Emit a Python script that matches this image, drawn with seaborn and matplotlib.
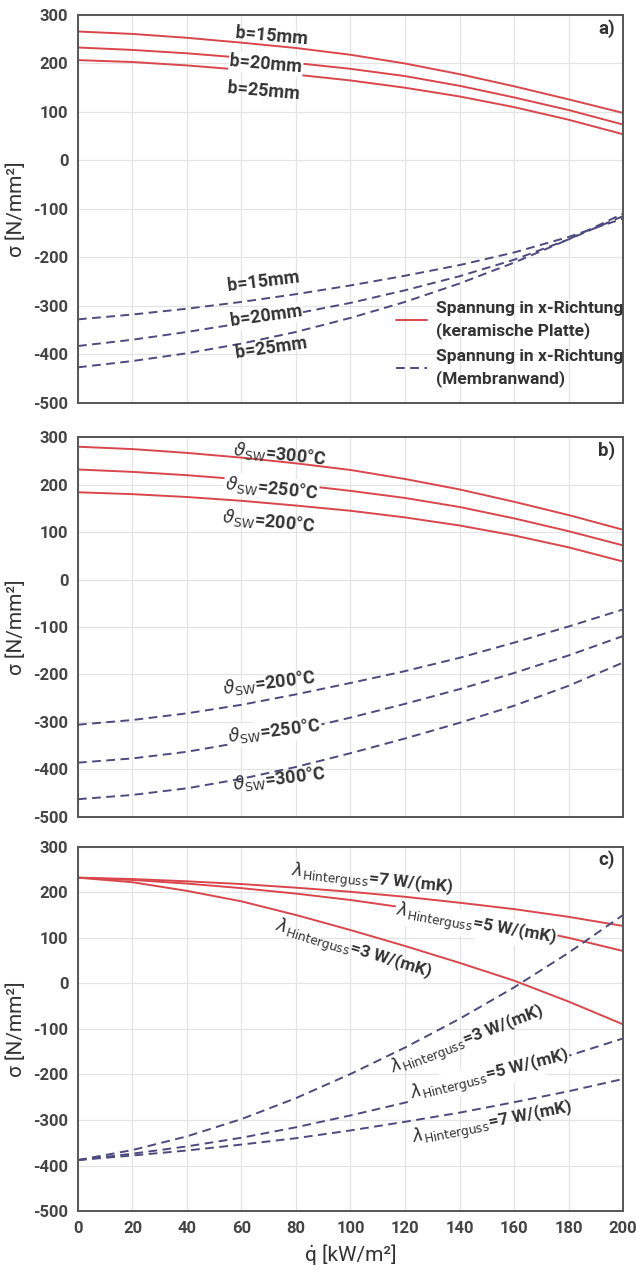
import numpy as np
import pandas as pd
import matplotlib
matplotlib.use("Agg")
import matplotlib.pyplot as plt
from matplotlib.lines import Line2D
import seaborn as sns

# heat flux q̇ in kW/m²
Q = [0, 20, 40, 60, 80, 100, 120, 140, 160, 180, 200]

# a) ceramic plate (solid) and membrane wall (dashed) for tile thickness b
a_plate_b15 = [266, 261, 253, 243, 232, 218, 200, 178, 153, 126, 98]
a_plate_b20 = [233, 228, 221, 212, 201, 189, 174, 154, 130, 104, 74]
a_plate_b25 = [207, 203, 196, 187, 177, 165, 150, 132, 110, 84, 54]
a_wall_b15 = [-328, -318, -306, -292, -276, -258, -238, -216, -190, -158, -120]
a_wall_b20 = [-383, -370, -354, -336, -316, -294, -268, -239, -205, -163, -115]
a_wall_b25 = [-427, -414, -398, -378, -354, -325, -292, -254, -211, -163, -110]

# b) ceramic plate and membrane wall for wall temperature
b_plate_300 = [280, 275, 267, 257, 245, 231, 212, 190, 164, 136, 105]
b_plate_250 = [232, 227, 220, 211, 200, 187, 172, 153, 129, 102, 72]
b_plate_200 = [184, 180, 174, 166, 156, 145, 131, 114, 93, 68, 38]
b_wall_200 = [-306, -296, -282, -264, -242, -218, -193, -165, -133, -99, -63]
b_wall_250 = [-386, -377, -363, -343, -318, -291, -262, -231, -197, -160, -119]
b_wall_300 = [-463, -454, -440, -420, -395, -366, -335, -302, -266, -224, -175]

# c) ceramic plate and membrane wall for backfill conductivity
c_plate_7 = [232, 229, 224, 218, 210, 201, 190, 177, 163, 146, 126]
c_plate_5 = [232, 227, 219, 209, 197, 183, 166, 147, 125, 100, 71]
c_plate_3 = [232, 222, 203, 180, 150, 117, 82, 45, 6, -40, -90]
c_wall_3 = [-388, -366, -336, -298, -252, -199, -141, -78, -9, 67, 150]
c_wall_5 = [-388, -374, -358, -339, -316, -290, -262, -230, -196, -159, -121]
c_wall_7 = [-388, -378, -367, -354, -340, -323, -304, -284, -261, -237, -210]

x_ticks = [0, 20, 40, 60, 80, 100, 120, 140, 160, 180, 200]
y_ticks = [-500, -400, -300, -200, -100, 0, 100, 200, 300]

legend_labels = ["Spannung in x-Richtung\n(keramische Platte)",
                 "Spannung in x-Richtung\n(Membranwand)"]

RED = "#d9474c"
NAVY = "#4c4a7e"
DASH = (0, (4.5, 2.8))
TXT = "#333333"

sns.set_theme(style="whitegrid")
plt.rcParams["font.family"] = ["Roboto", "DejaVu Sans"]
plt.rcParams["axes.unicode_minus"] = False
plt.rcParams["mathtext.fontset"] = "dejavusans"

fig = plt.figure(figsize=(6.36, 12.74), dpi=100)
left, width = 0.1226, 0.857
ax_a = fig.add_axes([left, 0.6839, width, 0.3043])
ax_b = fig.add_axes([left, 0.3589, width, 0.2979])
ax_c = fig.add_axes([left, 0.0494, width, 0.2860])


def draw(ax, series, color, ls):
    for vals in series:
        sns.lineplot(x=Q, y=vals, ax=ax, color=color, linewidth=1.4,
                     linestyle=ls, legend=False)


def style_axes(ax, tag, show_x):
    ax.set_xlim(0, 200)
    ax.set_ylim(-500, 300)
    ax.set_xticks(x_ticks)
    ax.set_yticks(y_ticks)
    ax.grid(True, color="#e4e4e4", linewidth=0.9)
    for s in ax.spines.values():
        s.set_color("#555555")
        s.set_linewidth(1.4)
    ax.tick_params(axis="both", length=3, width=0.8, color="#cccccc",
                   labelsize=12, labelcolor="#444444", pad=4)
    for lab in ax.get_yticklabels() + ax.get_xticklabels():
        lab.set_fontweight("bold")
    if not show_x:
        ax.tick_params(axis="x", labelbottom=False)
    ax.set_ylabel("σ [N/mm²]", fontsize=15, color=TXT, labelpad=5)
    ax.set_xlabel("")
    ax.text(0.985, 0.965, tag, transform=ax.transAxes, ha="right", va="center",
            fontsize=13.5, fontweight="bold", color=TXT)


def label(ax, txt, x, y, rot, box=False, size=13):
    kw = {}
    if box:
        kw["bbox"] = dict(facecolor="white", edgecolor="none", pad=0.6)
    ax.text(x, y, txt, ha="center", va="center", rotation=rot,
            rotation_mode="anchor", fontsize=size, fontweight="bold",
            color=TXT, **kw)


# panel a
draw(ax_a, [a_plate_b15, a_plate_b20, a_plate_b25], RED, "-")
draw(ax_a, [a_wall_b15, a_wall_b20, a_wall_b25], NAVY, DASH)
style_axes(ax_a, "a)", False)
label(ax_a, "b=15mm", 71, 257, -5)
label(ax_a, "b=20mm", 69, 199, -5, box=True)
label(ax_a, "b=25mm", 68, 143, -5)
label(ax_a, "b=15mm", 68, -250, 7)
label(ax_a, "b=20mm", 69, -322, 8, box=True)
label(ax_a, "b=25mm", 71, -388, 8)
handles = [Line2D([], [], color=RED, linewidth=1.4),
           Line2D([], [], color=NAVY, linewidth=1.4, linestyle=DASH)]
leg = ax_a.legend(handles, legend_labels, loc="lower left",
                  bbox_to_anchor=(0.555, 0.0), frameon=False,
                  handlelength=1.8, handletextpad=0.5, labelspacing=0.6,
                  prop={"size": 12.5, "weight": "bold"})
for t in leg.get_texts():
    t.set_color(TXT)
    t.set_linespacing(1.45)

# panel b
draw(ax_b, [b_plate_300, b_plate_250, b_plate_200], RED, "-")
draw(ax_b, [b_wall_200, b_wall_250, b_wall_300], NAVY, DASH)
style_axes(ax_b, "b)", False)
th = r"$\vartheta_{\mathrm{SW}}$"
label(ax_b, th + "=300°C", 74, 263, -6)
label(ax_b, th + "=250°C", 71, 193, -6, box=True)
label(ax_b, th + "=200°C", 70, 123, -6)
label(ax_b, th + "=200°C", 70, -218, 7)
label(ax_b, th + "=250°C", 72, -320, 7, box=True)
label(ax_b, th + "=300°C", 74, -421, 7)

# panel c
draw(ax_c, [c_plate_7, c_plate_5, c_plate_3], RED, "-")
draw(ax_c, [c_wall_3, c_wall_5, c_wall_7], NAVY, DASH)
style_axes(ax_c, "c)", True)
lam = r"$\lambda_{\mathrm{Hinterguss}}$"
label(ax_c, lam + "=7 W/(mK)", 108, 225, -6, size=12.5)
label(ax_c, lam + "=5 W/(mK)", 146, 127, -10, box=True, size=12.5)
label(ax_c, lam + "=3 W/(mK)", 101, 72, -17, size=12.5)
label(ax_c, lam + "=3 W/(mK)", 143, -125, 21, size=12.5)
label(ax_c, lam + "=5 W/(mK)", 151, -202, 14, box=True, size=12.5)
label(ax_c, lam + "=7 W/(mK)", 152, -308, 11, size=12.5)
ax_c.set_xlabel("q\u0307 [kW/m²]", fontsize=15, color=TXT, labelpad=6)

fig.savefig("out.png", dpi=100)
